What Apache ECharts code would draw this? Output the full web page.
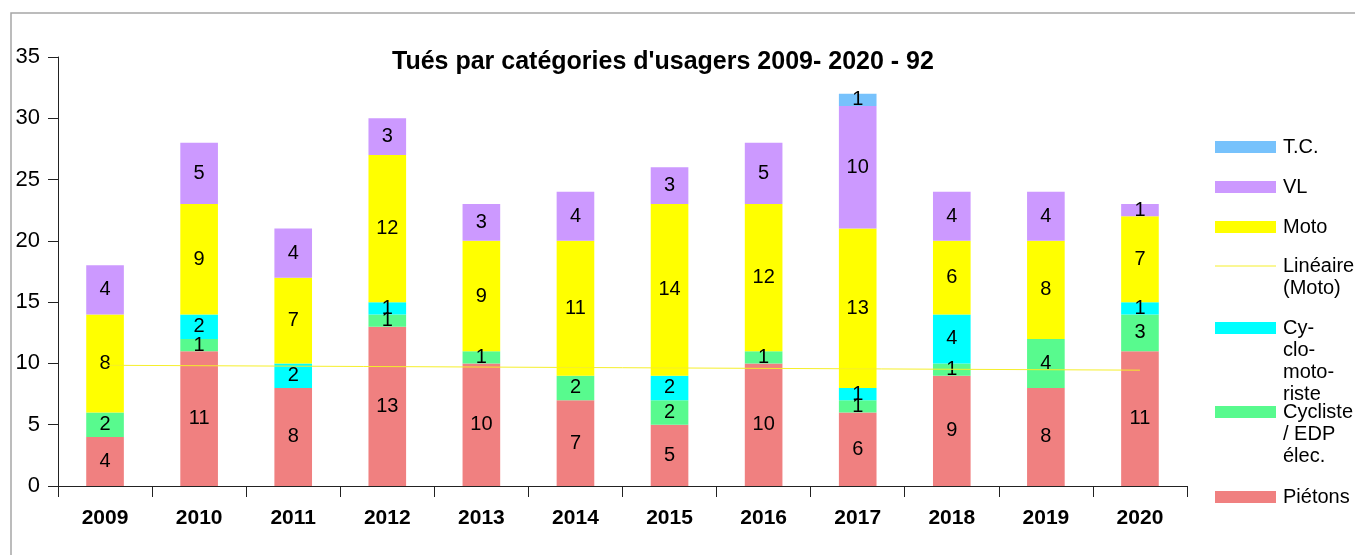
<!DOCTYPE html>
<html>
<head>
<meta charset="utf-8">
<script src="https://cdn.jsdelivr.net/npm/echarts@6/dist/echarts.min.js"></script>
<style>
  html, body { margin: 0; padding: 0; background: #fff; }
  #chart { width: 1355px; height: 555px; }
</style>
</head>
<body>
<div id="chart"></div>
<script>
// données
const years = ['2009', '2010', '2011', '2012', '2013', '2014', '2015', '2016', '2017', '2018', '2019', '2020']
const pietons = [4, 11, 8, 13, 10, 7, 5, 10, 6, 9, 8, 11]
const cyclistes = [2, 1, 0, 1, 1, 2, 2, 1, 1, 1, 4, 3]
const cyclomoto = [0, 2, 2, 1, 0, 0, 2, 0, 1, 4, 0, 1]
const moto = [8, 9, 7, 12, 9, 11, 14, 12, 13, 6, 8, 7]
const vl = [4, 5, 4, 3, 3, 4, 3, 5, 10, 4, 4, 1]
const tc = [0, 0, 0, 0, 0, 0, 0, 0, 1, 0, 0, 0]
// tendance linéaire (Moto) : extrémités
const motoTrend = [9.85, null, null, null, null, null, null, null, null, null, null, 9.45]

const FONT = 'Liberation Sans, Arial, sans-serif'

const barSeries = [
  { name: 'Piétons', data: pietons, color: '#f08080', legend: 'Piétons', ly: 497 },
  { name: 'Cycliste / EDP élec.', data: cyclistes, color: '#58fa8e', legend: 'Cycliste\n/ EDP\nélec.', ly: 412 },
  { name: 'Cyclomotoriste', data: cyclomoto, color: '#00ffff', legend: 'Cy-\nclo-\nmoto-\nriste', ly: 328 },
  { name: 'Moto', data: moto, color: '#ffff00', legend: 'Moto', ly: 227 },
  { name: 'VL', data: vl, color: '#cc99ff', legend: 'VL', ly: 187 },
  { name: 'T.C.', data: tc, color: '#77c2fc', legend: 'T.C.', ly: 147 }
]

const series = barSeries.map(s => ({
  name: s.name,
  type: 'bar',
  stack: 'total',
  barCategoryGap: '60%',
  data: s.data,
  itemStyle: { color: s.color },
  label: {
    show: true,
    position: 'inside',
    color: '#000',
    fontFamily: FONT,
    fontSize: 20,
    formatter: p => (p.value ? String(p.value) : '')
  }
}))
series.push({
  name: 'Linéaire (Moto)',
  type: 'line',
  data: motoTrend,
  connectNulls: true,
  showSymbol: false,
  symbol: 'none',
  z: 5,
  lineStyle: { color: '#f5ef2a', width: 1 }
})

// légende dessinée à la main (libellés sur plusieurs lignes)
const legendItems = barSeries.map(s => ({ text: s.legend, color: s.color, y: s.ly, line: false }))
legendItems.push({ text: 'Linéaire\n(Moto)', color: '#f5ef2a', y: 266, line: true })
const legendGraphic = []
legendItems.forEach(it => {
  if (it.line) {
    legendGraphic.push({
      type: 'line',
      shape: { x1: 1215, y1: it.y, x2: 1276, y2: it.y },
      style: { stroke: it.color, lineWidth: 1 }
    })
  } else {
    legendGraphic.push({
      type: 'rect',
      shape: { x: 1215, y: it.y - 6, width: 61, height: 12 },
      style: { fill: it.color }
    })
  }
  legendGraphic.push({
    type: 'text',
    x: 1283,
    y: it.y - 11,
    style: {
      text: it.text,
      fill: '#000',
      font: '20px ' + FONT,
      lineHeight: 22,
      verticalAlign: 'top'
    }
  })
})

const chart = echarts.init(document.getElementById('chart'))
chart.setOption({
  animation: false,
  textStyle: { fontFamily: FONT },
  title: {
    text: "Tués par catégories d'usagers 2009- 2020 - 92",
    left: 387,
    top: 45,
    textStyle: { fontFamily: FONT, fontSize: 25, fontWeight: 'bold', color: '#000' }
  },
  grid: { left: 58, right: 168, top: 57, bottom: 69 },
  xAxis: {
    type: 'category',
    data: years,
    axisLine: { lineStyle: { color: '#222', width: 1 } },
    axisTick: { show: true, length: 11, lineStyle: { color: '#222' } },
    axisLabel: { fontFamily: FONT, fontSize: 21, fontWeight: 'bold', color: '#000', margin: 22 }
  },
  yAxis: {
    type: 'value',
    min: 0,
    max: 35,
    interval: 5,
    splitLine: { show: false },
    axisLine: { show: true, lineStyle: { color: '#222', width: 1 } },
    axisTick: { show: true, length: 10, lineStyle: { color: '#222' } },
    axisLabel: { fontFamily: FONT, fontSize: 22, color: '#000', margin: 18 }
  },
  graphic: [
    {
      type: 'rect',
      shape: { x: 11, y: 13, width: 1400, height: 600 },
      style: { fill: 'none', stroke: '#a6a6a6', lineWidth: 1.5 },
      z: -1
    }
  ].concat(legendGraphic),
  series: series
})
</script>
</body>
</html>
